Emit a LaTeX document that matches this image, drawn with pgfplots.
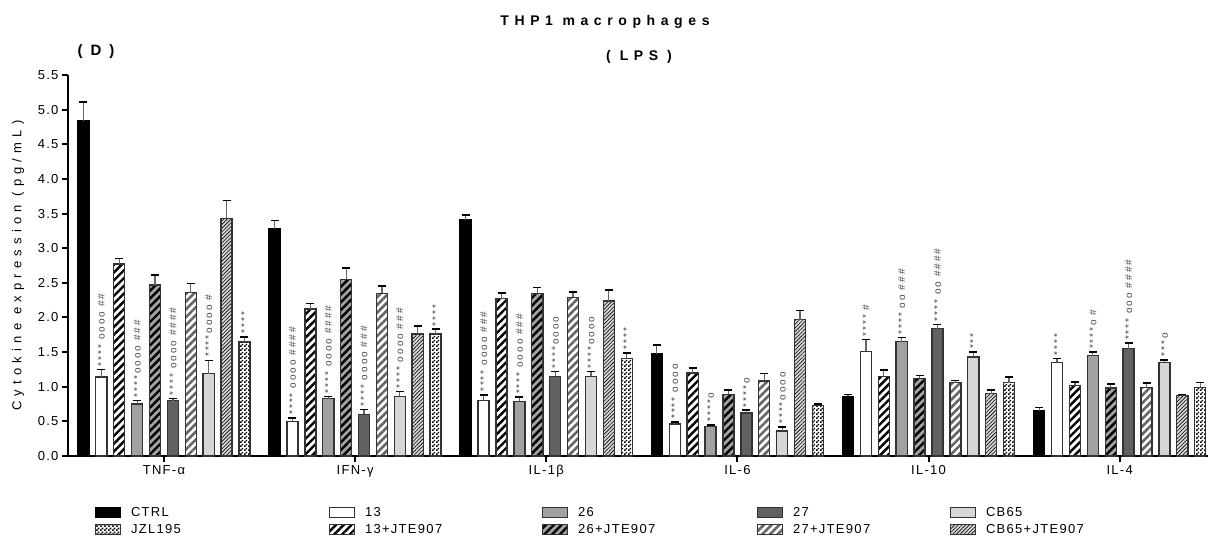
\documentclass[border=0pt]{standalone}
\usepackage{fontspec}
\setmainfont{Liberation Sans}[LetterSpace=10]
\newfontfamily\widefont{Liberation Sans}[LetterSpace=40]
\newfontfamily\annfont{Liberation Sans}[LetterSpace=20]
\usepackage{pgfplots}
\usepackage{pgfplotstable}
\pgfplotsset{compat=1.18}
\usetikzlibrary{patterns,patterns.meta}

\pgfdeclarepatternformonly{finechecker}{\pgfpointorigin}{\pgfqpoint{4pt}{4pt}}{\pgfqpoint{4pt}{4pt}}{%
 \pgfpathrectangle{\pgfpointorigin}{\pgfqpoint{2pt}{2pt}}%
 \pgfpathrectangle{\pgfqpoint{2pt}{2pt}}{\pgfqpoint{2pt}{2pt}}%
 \pgfusepath{fill}}

% columns: g = group (TNF, IFN, IL-1b, IL-6, IL-10, IL-4), v = value, e = error (+)
\pgfplotstableread{
g v e
0 4.84 0.27
1 3.28 0.12
2 3.41 0.07
3 1.47 0.13
4 0.86 0.03
5 0.65 0.05
}\tctrl
\pgfplotstableread{
g v e
0 1.14 0.11
1 0.50 0.05
2 0.80 0.08
3 0.46 0.03
4 1.51 0.17
5 1.35 0.06
}\tthirteen
\pgfplotstableread{
g v e
0 2.77 0.08
1 2.12 0.08
2 2.27 0.08
3 1.20 0.07
4 1.15 0.09
5 1.02 0.05
}\tthirteenj
\pgfplotstableread{
g v e
0 0.75 0.05
1 0.83 0.03
2 0.79 0.06
3 0.43 0.02
4 1.65 0.06
5 1.45 0.05
}\ttwentysix
\pgfplotstableread{
g v e
0 2.47 0.14
1 2.55 0.16
2 2.35 0.08
3 0.89 0.06
4 1.12 0.04
5 0.98 0.06
}\ttwentysixj
\pgfplotstableread{
g v e
0 0.80 0.03
1 0.60 0.07
2 1.15 0.07
3 0.62 0.04
4 1.84 0.06
5 1.55 0.08
}\ttwentyseven
\pgfplotstableread{
g v e
0 2.36 0.13
1 2.35 0.10
2 2.29 0.08
3 1.08 0.11
4 1.06 0.03
5 0.99 0.06
}\ttwentysevenj
\pgfplotstableread{
g v e
0 1.19 0.19
1 0.86 0.07
2 1.15 0.07
3 0.36 0.06
4 1.43 0.07
5 1.35 0.04
}\tcb
\pgfplotstableread{
g v e
0 3.43 0.26
1 1.76 0.12
2 2.24 0.16
3 1.97 0.13
4 0.90 0.05
5 0.87 0.02
}\tcbj
\pgfplotstableread{
g v e
0 1.645 0.075
1 1.76 0.07
2 1.41 0.08
3 0.73 0.02
4 1.06 0.08
5 0.99 0.07
}\tjzl

\pgfplotsset{
  mybar/.style={ybar, bar width=0.058, bar shift=0pt, draw=black!80, line width=1.4pt,
    legend image code/.code={\draw[##1, line width=1pt] (0pt,-5pt) rectangle (25pt,5pt);}},
}
\newcommand\ann[3]{\node[rotate=90, anchor=west, inner sep=0pt,
  font=\annfont\fontsize{10}{11}\selectfont, text=black!72] at ([yshift=3pt]axis cs:#1,#2) {#3};}

\begin{document}
\begin{tikzpicture}
\begin{axis}[
  scale only axis, width=1140pt, height=381pt,
  xmin=-0.502, xmax=5.462, ymin=0, ymax=5.5,
  axis lines=left, axis line style={-, line width=2.5pt},
  tick align=outside, major tick length=6pt,
  tick style={line width=2pt, black},
  xtick={0,1,2,3,4,5},
  xticklabels={TNF-α, IFN-γ, IL-1β, IL-6, IL-10, IL-4},
  ytick={0,0.5,...,5.5},
  yticklabel style={/pgf/number format/.cd, fixed, fixed zerofill, precision=1},
  /pgf/number format/assume math mode=true,
  ticklabel style={font=\fontsize{13}{15}\selectfont},
  ylabel={Cytokine expression (pg/mL)},
  ylabel style={font=\widefont\fontsize{13}{15}\selectfont, at={(axis description cs:-0.0439,0.5)}, anchor=center},
  clip=false,
  error bars/y dir=plus, error bars/y explicit,
  error bars/error bar style={line width=1.2pt, black!60},
  error bars/error mark options={rotate=90, line width=1.6pt, black, mark size=4pt},
  legend columns=5, legend cell align=left,
  legend style={at={(0.0237,-0.126)}, anchor=north west, draw=none, fill=none,
    inner sep=0pt, outer sep=0pt, row sep=0pt, column sep=0pt,
    font=\fontsize{13}{15}\selectfont,
    nodes={inner sep=2pt, text height=10pt, text depth=3pt},
    /tikz/every odd column/.append style={column sep=8pt}},
]
% row 1 of legend
\addplot[mybar, fill=black, draw=black] table[x expr=\thisrow{g}-0.4212, y=v, y error=e]{\tctrl};
\addlegendentry{\makebox[196pt][l]{CTRL}}
\addplot[mybar, fill=white] table[x expr=\thisrow{g}-0.3276, y=v, y error=e]{\tthirteen};
\addlegendentry{\makebox[175pt][l]{13}}
\addplot[mybar, fill=black!37] table[x expr=\thisrow{g}-0.1404, y=v, y error=e]{\ttwentysix};
\addlegendentry{\makebox[177pt][l]{26}}
\addplot[mybar, fill=black!62] table[x expr=\thisrow{g}+0.0468, y=v, y error=e]{\ttwentyseven};
\addlegendentry{\makebox[155pt][l]{27}}
\addplot[mybar, fill=black!16] table[x expr=\thisrow{g}+0.2340, y=v, y error=e]{\tcb};
\addlegendentry{CB65}
% row 2 of legend
\addplot[mybar, fill=white, postaction={pattern=finechecker, pattern color=black}] table[x expr=\thisrow{g}+0.4212, y=v, y error=e]{\tjzl};
\addlegendentry{\makebox[196pt][l]{JZL195}}
\addplot[mybar, fill=white, postaction={pattern={Lines[angle=45,distance=5.5pt,line width=2.4pt]}, pattern color=black}] table[x expr=\thisrow{g}-0.2340, y=v, y error=e]{\tthirteenj};
\addlegendentry{\makebox[175pt][l]{13+JTE907}}
\addplot[mybar, fill=black!37, postaction={pattern={Lines[angle=45,distance=5.5pt,line width=2.4pt]}, pattern color=black}] table[x expr=\thisrow{g}-0.0468, y=v, y error=e]{\ttwentysixj};
\addlegendentry{\makebox[177pt][l]{26+JTE907}}
\addplot[mybar, fill=white, postaction={pattern={Lines[angle=45,distance=5.5pt,line width=2.6pt]}, pattern color=black!60}] table[x expr=\thisrow{g}+0.1404, y=v, y error=e]{\ttwentysevenj};
\addlegendentry{\makebox[155pt][l]{27+JTE907}}
\addplot[mybar, fill=black!16, postaction={pattern={Lines[angle=45,distance=2.6pt,line width=0.6pt]}, pattern color=black}] table[x expr=\thisrow{g}+0.3276, y=v, y error=e]{\tcbj};
\addlegendentry{CB65+JTE907}

% significance marks
\ann{-0.3276}{1.25}{**** oooo \#\#}
\ann{-0.1404}{0.80}{****oooo \#\#\#}
\ann{0.0468}{0.83}{**** oooo \#\#\#\#}
\ann{0.2340}{1.385}{****oooo \#}
\ann{0.4212}{1.72}{****}
\ann{0.6724}{0.55}{**** oooo \#\#\#\#}
\ann{0.8596}{0.86}{**** oooo \#\#\#\#}
\ann{1.0468}{0.67}{**** oooo \#\#\#}
\ann{1.2340}{0.93}{**** oooo \#\#\#}
\ann{1.4212}{1.83}{****}
\ann{1.6724}{0.88}{**** oooo \#\#\#}
\ann{1.8596}{0.85}{**** oooo \#\#\#}
\ann{2.0468}{1.22}{****oooo}
\ann{2.2340}{1.22}{****oooo}
\ann{2.4212}{1.49}{****}
\ann{2.6724}{0.49}{**** oooo}
\ann{2.8596}{0.45}{****o}
\ann{3.0468}{0.66}{****o}
\ann{3.2340}{0.42}{****oooo}
\ann{3.6724}{1.68}{**** \#}
\ann{3.8596}{1.71}{**** oo \#\#\#}
\ann{4.0468}{1.90}{**** oo \#\#\#\#}
\ann{4.2340}{1.50}{***}
\ann{4.6724}{1.41}{****}
\ann{4.8596}{1.50}{****o \#}
\ann{5.0468}{1.63}{**** ooo \#\#\#\#}
\ann{5.2340}{1.39}{***o}
\end{axis}
\node[font=\widefont\bfseries\fontsize{14}{16}\selectfont] at (537pt,434pt) {THP1 macrophages};
\node[font=\widefont\bfseries\fontsize{14}{16}\selectfont] at (571pt,399pt) {(\hspace{9pt}LPS\hspace{9pt})};
\node[font=\bfseries\fontsize{15}{17}\selectfont] at (28pt,404pt) {(\hspace{8pt}D\hspace{8pt})};
\pgfresetboundingbox
\path (-68pt,-86pt) rectangle (1140pt,456pt);
\end{tikzpicture}
\end{document}
